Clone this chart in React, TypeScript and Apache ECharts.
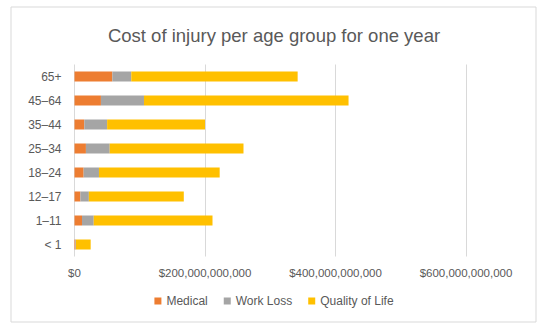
import React, { useEffect, useRef } from "react";
import * as echarts from "echarts";

const categories = ["< 1", "1–11", "12–17", "18–24", "25–34", "35–44", "45–64", "65+"];
const medical = [1.5e9, 11.5e9, 9e9, 14e9, 17.5e9, 15e9, 40.5e9, 58e9];
const workLoss = [0.8e9, 18e9, 13e9, 23.5e9, 36.5e9, 35e9, 66e9, 29e9];
const qualityOfLife = [22.5e9, 182e9, 145.5e9, 185e9, 205e9, 150e9, 313.5e9, 255e9];
const xTicks = { min: 0, max: 600e9, interval: 200e9 };

const fmt = (v: number) => "$" + Math.round(v).toLocaleString("en-US");

export default function App() {
  const ref = useRef<HTMLDivElement>(null);
  useEffect(() => {
    document.body.style.margin = "0";
    const chart = echarts.init(ref.current!, undefined, { renderer: "svg" });
    const font = "Liberation Sans";
    chart.setOption({
      animation: false,
      backgroundColor: "#ffffff",
      textStyle: { fontFamily: font },
      title: {
        text: "Cost of injury per age group for one year",
        left: "center",
        top: 21,
        textStyle: { color: "#595959", fontSize: 18.5, fontWeight: "normal", fontFamily: font },
      },
      graphic: [
        {
          type: "rect",
          shape: { x: 11, y: 7, width: 525, height: 315 },
          style: { fill: "none", stroke: "#d9d9d9", lineWidth: 1 },
          silent: true,
        },
      ],
      legend: {
        bottom: 22,
        left: "center",
        itemWidth: 7,
        itemHeight: 7,
        itemGap: 16,
        icon: "rect",
        textStyle: { color: "#595959", fontSize: 12, fontFamily: font },
        data: ["Medical", "Work Loss", "Quality of Life"],
      },
      grid: { left: 74.5, right: 82, top: 64.5, bottom: 77.5, containLabel: false },
      xAxis: {
        type: "value",
        min: xTicks.min,
        max: xTicks.max,
        interval: xTicks.interval,
        axisLine: { show: false },
        axisTick: { show: false },
        splitLine: { lineStyle: { color: "#d9d9d9", width: 1 } },
        axisLabel: { color: "#595959", fontSize: 11.5, margin: 10, formatter: fmt, fontFamily: font },
      },
      yAxis: {
        type: "category",
        data: categories,
        axisLine: { show: false },
        axisTick: { show: false },
        axisLabel: { color: "#595959", fontSize: 12, margin: 13, fontFamily: font },
      },
      series: [
        { name: "Medical", type: "bar", stack: "t", data: medical, barWidth: 10, itemStyle: { color: "#ED7D31" } },
        { name: "Work Loss", type: "bar", stack: "t", data: workLoss, barWidth: 10, itemStyle: { color: "#A5A5A5" } },
        { name: "Quality of Life", type: "bar", stack: "t", data: qualityOfLife, barWidth: 10, itemStyle: { color: "#FFC000" } },
      ],
    });
    return () => chart.dispose();
  }, []);
  return <div ref={ref} style={{ width: 548, height: 334, position: "absolute", left: 0, top: 0 }} />;
}
